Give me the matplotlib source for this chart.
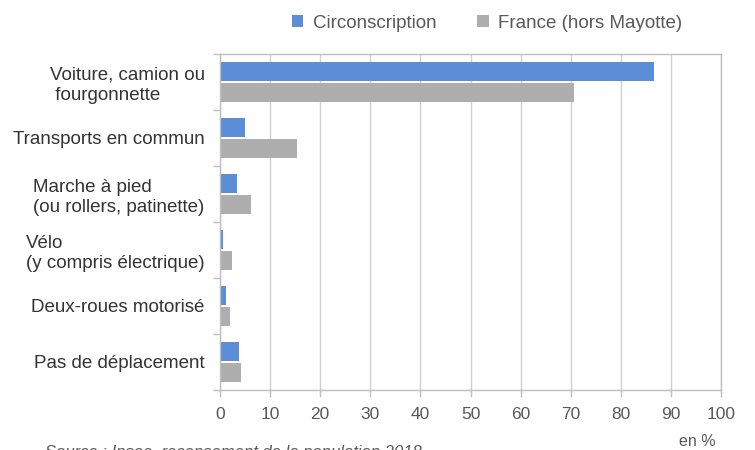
import numpy as np
import matplotlib
matplotlib.use("Agg")
import matplotlib.pyplot as plt
from matplotlib.ticker import FixedLocator

# data (en %)
categories = ["Voiture, camion ou\n fourgonnette", "Transports en commun",
              "Marche à pied\n(ou rollers, patinette)", "Vélo\n(y compris électrique)",
              "Deux-roues motorisé", "Pas de déplacement"]
circonscription = [86.7, 4.9, 3.4, 0.6, 1.2, 3.8]
france = [70.6, 15.3, 6.2, 2.4, 2.0, 4.2]
series_names = ["Circonscription", "France (hors Mayotte)"]

plt.rcParams['font.family'] = ['Liberation Sans', 'DejaVu Sans']

blue = "#5B8ED6"
grey = "#AFAEAF"
txt = "#595959"

fig = plt.figure(figsize=(7.55, 4.5), dpi=100)
ax = fig.add_axes([220/755, 1 - 390/450, 501/755, 336/450])

y = np.arange(len(categories))
h = 0.34
off = 0.196
b1 = ax.barh(y - off, circonscription, height=h, color=blue, label=series_names[0])
b2 = ax.barh(y + off, france, height=h, color=grey, label=series_names[1])

ax.set_xlim(0, 100)
ax.set_ylim(len(categories) - 0.5, -0.5)
ax.set_xticks(np.arange(0, 101, 10))
ax.set_yticks(y)
ax.set_yticklabels(categories, ha="right", multialignment="left")
ax.yaxis.set_minor_locator(FixedLocator(np.arange(-0.5, len(categories), 1)))
ax.tick_params(axis="y", which="major", length=0, pad=11, labelsize=13.5, labelcolor="#333333")
ax.tick_params(axis="y", which="minor", length=5, color="#BFBFBF", width=1)
ax.tick_params(axis="x", length=5, color="#BFBFBF", width=1, labelsize=12.5,
               labelcolor=txt, pad=7)

ax.grid(axis="x", color="#D0D0D0", linewidth=1)
ax.set_axisbelow(True)
for s in ax.spines.values():
    s.set_color("#BFBFBF")
    s.set_linewidth(1)

fig.legend(handles=[b1, b2], loc="upper center", bbox_to_anchor=(487/755, 1.005), ncol=2,
           frameon=False, fontsize=13.5, labelcolor=txt, handlelength=0.6, handleheight=0.6,
           handletextpad=0.5, columnspacing=2.2)

fig.text(697/755, 1 - 441/450, "en %", fontsize=11.5, color=txt, ha="center", va="center")
fig.text(45/755, 1 - 452/450, "Source : Insee, recensement de la population 2018",
         fontsize=12, color=txt, style="italic", ha="left", va="center")

fig.savefig("out.png", dpi=100)
